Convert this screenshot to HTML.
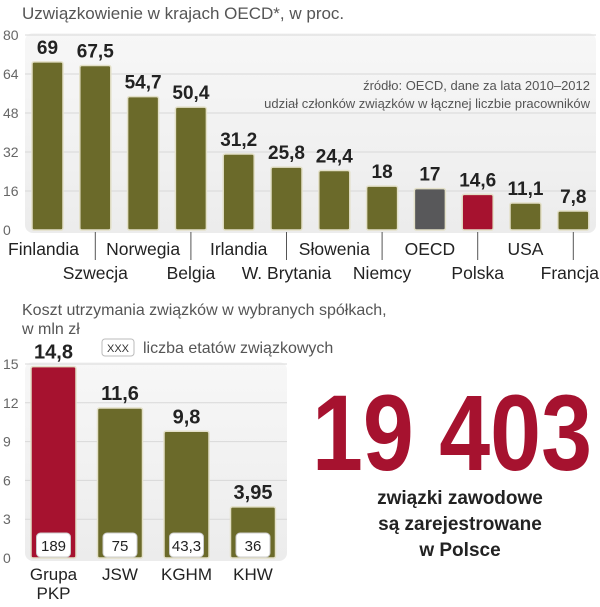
<!DOCTYPE html>
<html><head><meta charset="utf-8"><style>
body{margin:0;width:600px;height:602px;background:#fff;overflow:hidden;font-family:"Liberation Sans",sans-serif}
</style></head><body>
<svg width="600" height="602" font-family="Liberation Sans, sans-serif">
<defs><linearGradient id="bg" x1="0" y1="0" x2="0" y2="1"><stop offset="0" stop-color="#f7f7f7"/><stop offset="1" stop-color="#ececec"/></linearGradient></defs>
<text x="22" y="19" font-size="17" fill="#555">Uzwiązkowienie w krajach OECD*, w proc.</text>
<g id="top"></g>
<text x="590" y="90" font-size="13" fill="#555" text-anchor="end">źródło: OECD, dane za lata 2010–2012</text>
<text x="590" y="108" font-size="13" fill="#555" text-anchor="end">udział członków związków w łącznej liczbie pracowników</text>
<text x="22" y="315" font-size="16" fill="#555">Koszt utrzymania związków w wybranych spółkach,</text>
<text x="22" y="334" font-size="16" fill="#555">w mln zł</text>
<rect x="102" y="339" width="32" height="17" rx="3" fill="#fff" stroke="#bbb"/>
<text x="118" y="352" font-size="11" fill="#333" text-anchor="middle">XXX</text>
<text x="143" y="353" font-size="16" fill="#555">liczba etatów związkowych</text>
<g id="bot"></g>
<text x="452" y="470" font-size="108" font-weight="bold" fill="#a6122f" text-anchor="middle" textLength="280" lengthAdjust="spacingAndGlyphs">19 403</text>
<g font-size="19" font-weight="bold" fill="#222" text-anchor="middle">
<text x="460" y="504">związki zawodowe</text>
<text x="460" y="530">są zarejestrowane</text>
<text x="460" y="556">w Polsce</text>
</g>
</svg>
<script>
const topCats=["Finlandia","Szwecja","Norwegia","Belgia","Irlandia","W. Brytania","Słowenia","Niemcy","OECD","Polska","USA","Francja"];
const topVals=[69,67.5,54.7,50.4,31.2,25.8,24.4,18,17,14.6,11.1,7.8];
const topLabels=["69","67,5","54,7","50,4","31,2","25,8","24,4","18","17","14,6","11,1","7,8"];
const topTicks=[0,16,32,48,64,80];
const botCats=["Grupa|PKP","JSW","KGHM","KHW"];
const botVals=[14.8,11.6,9.8,3.95];
const botLabels=["14,8","11,6","9,8","3,95"];
const botJobs=["189","75","43,3","36"];
const botTicks=[0,3,6,9,12,15];
const NS="http://www.w3.org/2000/svg";
function mk(p,t,a,txt){const e=document.createElementNS(NS,t);for(const k in a)e.setAttribute(k,a[k]);if(txt!=null)e.textContent=txt;p.appendChild(e);return e;}
const g=document.getElementById('top');
const ty=v=>230-v*195/80, tx=i=>32+i*47.8;
let bg=mk(g,'rect',{x:25,y:33,width:571,height:200,rx:8,fill:'url(#bg)'});


topTicks.forEach(t=>{
 if(t>0){let l=mk(g,'line',{x1:25,x2:596,y1:ty(t),y2:ty(t),stroke:'#d8d8d8'});}
 let e=mk(g,'text',{x:3,y:ty(t)+5,'font-size':14,fill:'#666'},String(t));
 
 
});
topVals.forEach((v,i)=>{
 const c=topCats[i]==="OECD"?'#58585a':topCats[i]==="Polska"?'#a6122f':'#6b6a2a';
 let r=mk(g,'rect',{x:tx(i),y:ty(v),width:31,height:ty(0)-ty(v),rx:2,fill:c,stroke:'#e3e0c8','stroke-width':1.5});
 
 
 let t=mk(g,'text',{x:tx(i)+15.5,y:ty(v)-8,'font-size':19,'font-weight':'bold',fill:'#222','text-anchor':'middle'},topLabels[i]);
 
 
 const odd=i%2===1, cx=tx(i)+15.5;
 if(odd){let l=mk(g,'line',{x1:cx,x2:cx,y1:232,y2:260,stroke:'#555'});}
 let anchor='middle',lx=cx;
 if(i===0){anchor='start';lx=8;}
 if(i===11){anchor='end';lx=599;}
 let n=mk(g,'text',{x:lx,y:odd?279:255,'font-size':17.5,fill:'#222','text-anchor':anchor},topCats[i]);
 
 
});
const b=document.getElementById('bot');
const by=v=>558-v*194/15, bx=i=>31+i*66.5;
let bg2=mk(b,'rect',{x:25,y:362,width:262,height:199,rx:8,fill:'url(#bg)'});


botTicks.forEach(t=>{
 if(t>0){let l=mk(b,'line',{x1:25,x2:287,y1:by(t),y2:by(t),stroke:'#d8d8d8'});}
 let e=mk(b,'text',{x:3,y:by(t)+5,'font-size':14,fill:'#666'},String(t));
 
 
});
botVals.forEach((v,i)=>{
 const c=i===0?'#a6122f':'#6b6a2a', cx=bx(i)+22.5;
 let r=mk(b,'rect',{x:bx(i),y:by(v),width:45,height:by(0)-by(v),rx:2,fill:c,stroke:'#e3e0c8','stroke-width':1.5});
 
 
 let t=mk(b,'text',{x:cx,y:by(v)-8,'font-size':20,'font-weight':'bold',fill:'#222','text-anchor':'middle'},botLabels[i]);
 
 
 let bx2=mk(b,'rect',{x:cx-17,y:533,width:34,height:24,rx:4,fill:'#fff',stroke:'#ccc'});
 
 
 let j=mk(b,'text',{x:cx,y:551,'font-size':15,fill:'#222','text-anchor':'middle'},botJobs[i]);
 
 
 botCats[i].split('|').forEach((s,k)=>{
  let n=mk(b,'text',{x:cx,y:580+k*19,'font-size':17,fill:'#222','text-anchor':'middle'},s);
  
  
 });
});
</script>
</body></html>
